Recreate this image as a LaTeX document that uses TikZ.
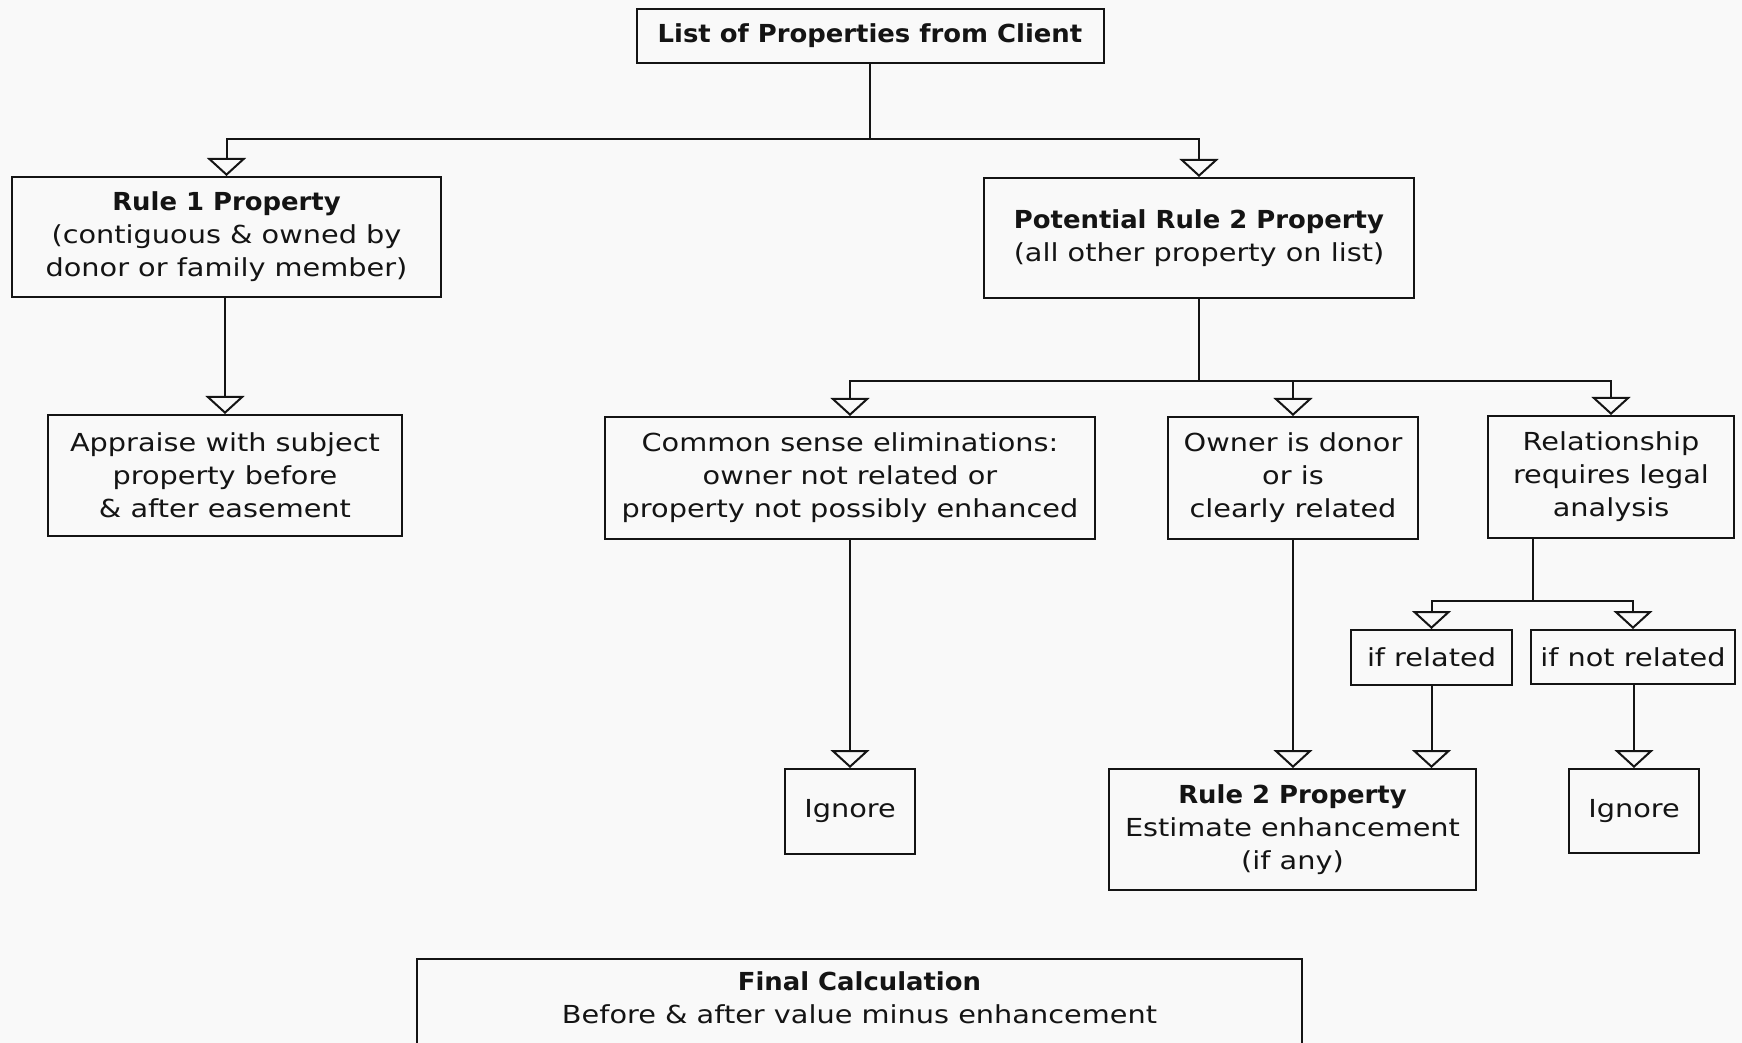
\documentclass[tikz,border=0pt]{standalone}
\usepackage{fontspec}
\setmainfont{DejaVu Sans}[FakeStretch=1.16, BoldFont={DejaVu Sans Condensed Bold}, BoldFeatures={FakeStretch=1.16}]
\usetikzlibrary{arrows.meta}
\definecolor{bg}{RGB}{249,249,249}
\definecolor{ink}{RGB}{20,20,20}
\tikzset{
  box/.style={draw=ink, line width=1pt, fill=bg, align=center, inner sep=0pt,
    font=\fontsize{12.4}{16.5}\selectfont, text=ink},
  arr/.style={draw=ink, line width=1pt, -{Triangle[open, width=19.5pt, length=9pt, line width=1pt]}},
  ln/.style={draw=ink, line width=1pt}
}
\begin{document}
\begin{tikzpicture}[x=0.5pt,y=-0.5pt]
\fill[bg] (0,0) rectangle (1742,1043);
\useasboundingbox (0,0) rectangle (1742,1043);
% nodes
\node[box, minimum width=233.5pt, minimum height=27pt] (top) at (870,36) {\textbf{List of Properties from Client}};
\node[box, minimum width=214.5pt, minimum height=60pt] (r1) at (226.5,237) {\textbf{Rule 1 Property}\\(contiguous \& owned by\\donor or family member)};
\node[box, minimum width=215pt, minimum height=60pt] (pot) at (1199,238) {\textbf{Potential Rule 2 Property}\\(all other property on list)};
\node[box, minimum width=177pt, minimum height=60.5pt] (app) at (225,475.5) {Appraise with subject\\property before\\\& after easement};
\node[box, minimum width=245pt, minimum height=61pt] (com) at (850,478) {Common sense eliminations:\\owner not related or\\property not possibly enhanced};
\node[box, minimum width=125pt, minimum height=61pt] (own) at (1293,478) {Owner is donor\\or is\\clearly related};
\node[box, minimum width=123pt, minimum height=61pt] (rel) at (1611,477) {Relationship\\requires legal\\analysis};
\node[box, minimum width=80.5pt, minimum height=27.5pt] (ifr) at (1431.5,657.5) {if related};
\node[box, minimum width=102pt, minimum height=27pt] (ifn) at (1633,657) {if not related};
\node[box, minimum width=65pt, minimum height=42.5pt] (ign1) at (850,811.5) {Ignore};
\node[box, minimum width=183.5pt, minimum height=60.5pt] (r2) at (1292.5,829.5) {\textbf{Rule 2 Property}\\Estimate enhancement\\(if any)};
\node[box, minimum width=65pt, minimum height=42pt] (ign2) at (1634,811) {Ignore};
\node[box, minimum width=442.5pt, minimum height=60pt, anchor=north] (fin) at (859.5,958) {\textbf{Final Calculation}\\Before \& after value minus enhancement\\\strut};
% connectors
\coordinate (b1) at (870,139);
\draw[ln] (top.south) -- (b1);
\draw[arr] (b1) -| (r1.north);
\draw[arr] (b1) -| (pot.north);
\draw[arr] (app.north |- r1.south) -- (app.north);
\coordinate (b2) at (1199,381);
\draw[ln] (pot.south) -- (b2);
\draw[arr] (b2) -| (com.north);
\draw[arr] (b2) -| (own.north);
\draw[arr] (b2) -| (rel.north);
\draw[arr] (com.south) -- (ign1.north);
\draw[arr] (own.south) -- (own.south |- r2.north);
\coordinate (rs) at (1533,538);
\coordinate (b3) at (1533,601);
\draw[ln] (rs) -- (b3);
\draw[arr] (b3) -| (ifr.north);
\draw[arr] (b3) -| (ifn.north);
\draw[arr] (ifr.south) -- (ifr.south |- r2.north);
\draw[arr] (ign2.north |- ifn.south) -- (ign2.north);
\end{tikzpicture}
\end{document}
